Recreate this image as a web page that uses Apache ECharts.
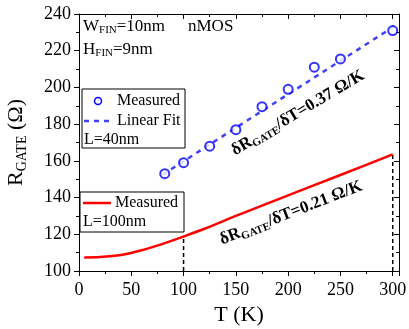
<!DOCTYPE html>
<html>
<head>
<meta charset="utf-8">
<script src="https://cdn.jsdelivr.net/npm/echarts@6/dist/echarts.min.js"></script>
<style>
  html, body { margin: 0; padding: 0; background: #fff; }
  #main { width: 409px; height: 329px; }
</style>
</head>
<body>
<div id="main"></div>
<script>
// L=40nm measured points
const tMeas40 = [82, 100, 125, 150, 175, 200, 225, 250, 300]
const rMeas40 = [153, 159, 168, 177, 189.5, 199, 211, 215.5, 231]
// linear fit for L=40nm
const tFit40 = [80, 302]
const rFit40 = [152.5, 233.5]
// L=100nm measured curve
const tMeas100 = [5, 20, 40, 60, 80, 100, 120, 150, 200, 250, 300]
const rMeas100 = [107.4, 107.6, 108.7, 111.3, 114.8, 118.8, 123, 130, 141.2, 152.3, 163.5]
// vertical guide lines
const guideT = [100, 300]
const guideR = [118.8, 163.5]
const xTicks = [0, 50, 100, 150, 200, 250, 300]
const yTicks = [100, 120, 140, 160, 180, 200, 220, 240]

const FONT = 'Liberation Serif'
const pair = (xs, ys) => xs.map((x, i) => [x, ys[i]])

const chart = echarts.init(document.getElementById('main'))

const baseX = {
    type: 'value',
    min: xTicks[0],
    max: 306,
    interval: 50,
    axisLine: { show: true, onZero: false, lineStyle: { color: '#000', width: 1 } },
    splitLine: { show: false }
}
const baseY = {
    type: 'value',
    min: yTicks[0],
    max: yTicks[yTicks.length - 1],
    interval: 20,
    axisLine: { show: true, onZero: false, lineStyle: { color: '#000', width: 1 } },
    splitLine: { show: false }
}

const guideSeries = guideT.map((t, i) => ({
    type: 'line',
    data: [[t, yTicks[0]], [t, guideR[i]]],
    symbol: 'none',
    silent: true,
    lineStyle: { color: '#000', width: 1.5, type: [4, 3] },
    z: 1
}))

const option = {
    animation: false,
    grid: { left: 79, right: 10, top: 14, bottom: 58, outerBoundsMode: 'none' },
    xAxis: [
        Object.assign({}, baseX, {
            position: 'bottom',
            name: 'T (K)',
            nameLocation: 'middle',
            nameGap: 32,
            nameTextStyle: { fontFamily: FONT, fontSize: 22, color: '#000' },
            axisTick: { show: true, inside: false, length: 5, lineStyle: { color: '#000' } },
            minorTick: { show: true, splitNumber: 2, length: 3, lineStyle: { color: '#000' } },
            axisLabel: { fontFamily: FONT, fontSize: 18, color: '#000', margin: 10,
                formatter: v => (v > 300 ? '' : v) }
        }),
        Object.assign({}, baseX, {
            position: 'top',
            axisTick: { show: true, inside: true, length: 5, lineStyle: { color: '#000' } },
            minorTick: { show: true, splitNumber: 2, length: 3, lineStyle: { color: '#000' } },
            axisLabel: { show: false }
        })
    ],
    yAxis: [
        Object.assign({}, baseY, {
            position: 'left',
            name: '{r|R}{s|GATE}{r| (Ω)}',
            nameLocation: 'middle',
            nameGap: 50,
            nameTextStyle: {
                color: '#000',
                rich: {
                    r: { fontFamily: FONT, fontSize: 22, lineHeight: 26, color: '#000' },
                    s: { fontFamily: FONT, fontSize: 14, lineHeight: 14, verticalAlign: 'bottom', color: '#000' }
                }
            },
            axisTick: { show: true, inside: false, length: 5, lineStyle: { color: '#000' } },
            minorTick: { show: true, splitNumber: 2, length: 3, lineStyle: { color: '#000' } },
            axisLabel: { fontFamily: FONT, fontSize: 18, color: '#000', margin: 8 }
        }),
        Object.assign({}, baseY, {
            position: 'right',
            axisTick: { show: true, inside: true, length: 5, lineStyle: { color: '#000' } },
            minorTick: { show: true, splitNumber: 2, length: 3, lineStyle: { color: '#000' } },
            axisLabel: { show: false }
        })
    ],
    series: [
        ...guideSeries,
        {
            name: 'Linear Fit',
            type: 'line',
            data: pair(tFit40, rFit40),
            symbol: 'none',
            lineStyle: { color: '#4040ff', width: 2.5, type: [5, 5] },
            z: 2
        },
        {
            name: 'Measured L=40nm',
            type: 'scatter',
            data: pair(tMeas40, rMeas40),
            symbol: 'emptyCircle',
            symbolSize: 9,
            itemStyle: { color: '#0000ff', borderWidth: 1.5 },
            z: 3
        },
        {
            name: 'Measured L=100nm',
            type: 'line',
            data: pair(tMeas100, rMeas100),
            symbol: 'none',
            smooth: 0.3,
            lineStyle: { color: '#ff0000', width: 2.5 },
            z: 3
        }
    ],
    graphic: [
        // top-left labels
        { type: 'text', left: 83, top: 18, style: { text: '{n|W}{s|FIN}{n|=10nm}', rich: {
            n: { fontFamily: FONT, fontSize: 17, lineHeight: 19, fill: '#000' },
            s: { fontFamily: FONT, fontSize: 11, lineHeight: 11, verticalAlign: 'bottom', fill: '#000' } } } },
        { type: 'text', left: 188, top: 18, style: { text: 'nMOS', font: '17px "Liberation Serif"', fill: '#000' } },
        { type: 'text', left: 83, top: 41, style: { text: '{n|H}{s|FIN}{n|=9nm}', rich: {
            n: { fontFamily: FONT, fontSize: 17, lineHeight: 19, fill: '#000' },
            s: { fontFamily: FONT, fontSize: 11, lineHeight: 11, verticalAlign: 'bottom', fill: '#000' } } } },
        // legend box L=40nm
        { type: 'rect', shape: { x: 82, y: 89, width: 103, height: 59 },
            style: { fill: '#fff', stroke: '#000', lineWidth: 1 }, z: 10 },
        { type: 'circle', shape: { cx: 98, cy: 101, r: 3.5 },
            style: { fill: '#fff', stroke: '#0000ff', lineWidth: 1.5 }, z: 11 },
        { type: 'text', x: 117, y: 101, style: { text: 'Measured', font: '16px "Liberation Serif"', fill: '#000', textVerticalAlign: 'middle' }, z: 11 },
        { type: 'line', shape: { x1: 84, y1: 121, x2: 111, y2: 121 },
            style: { stroke: '#4040ff', lineWidth: 2.5, lineDash: [5, 5] }, z: 11 },
        { type: 'text', x: 117, y: 121, style: { text: 'Linear Fit', font: '16px "Liberation Serif"', fill: '#000', textVerticalAlign: 'middle' }, z: 11 },
        { type: 'text', x: 84, y: 140, style: { text: 'L=40nm', font: '16px "Liberation Serif"', fill: '#000', textVerticalAlign: 'middle' }, z: 11 },
        // legend box L=100nm
        { type: 'rect', shape: { x: 80, y: 192, width: 104, height: 40 },
            style: { fill: '#fff', stroke: '#000', lineWidth: 1 }, z: 10 },
        { type: 'line', shape: { x1: 83, y1: 203, x2: 111, y2: 203 },
            style: { stroke: '#ff0000', lineWidth: 2.5 }, z: 11 },
        { type: 'text', x: 115, y: 203, style: { text: 'Measured', font: '16px "Liberation Serif"', fill: '#000', textVerticalAlign: 'middle' }, z: 11 },
        { type: 'text', x: 83, y: 222, style: { text: 'L=100nm', font: '16px "Liberation Serif"', fill: '#000', textVerticalAlign: 'middle' }, z: 11 },
        // slope annotations
        { type: 'text', x: 298, y: 113, rotation: 0.536, z: 11, style: {
            text: '{b|δR}{s|GATE}{b|/δT=0.37 Ω/K}', align: 'center', verticalAlign: 'middle',
            rich: {
                b: { fontFamily: FONT, fontWeight: 'bold', fontSize: 17, lineHeight: 20, fill: '#000' },
                s: { fontFamily: FONT, fontWeight: 'bold', fontSize: 11, lineHeight: 11, verticalAlign: 'bottom', fill: '#000' }
            } } },
        { type: 'text', x: 291, y: 213, rotation: 0.37, z: 11, style: {
            text: '{b|δR}{s|GATE}{b|/δT=0.21 Ω/K}', align: 'center', verticalAlign: 'middle',
            rich: {
                b: { fontFamily: FONT, fontWeight: 'bold', fontSize: 17, lineHeight: 20, fill: '#000' },
                s: { fontFamily: FONT, fontWeight: 'bold', fontSize: 11, lineHeight: 11, verticalAlign: 'bottom', fill: '#000' }
            } } }
    ]
}
chart.setOption(option)
window.addEventListener('resize', function() {
    chart.resize()
})
</script>
</body>
</html>
